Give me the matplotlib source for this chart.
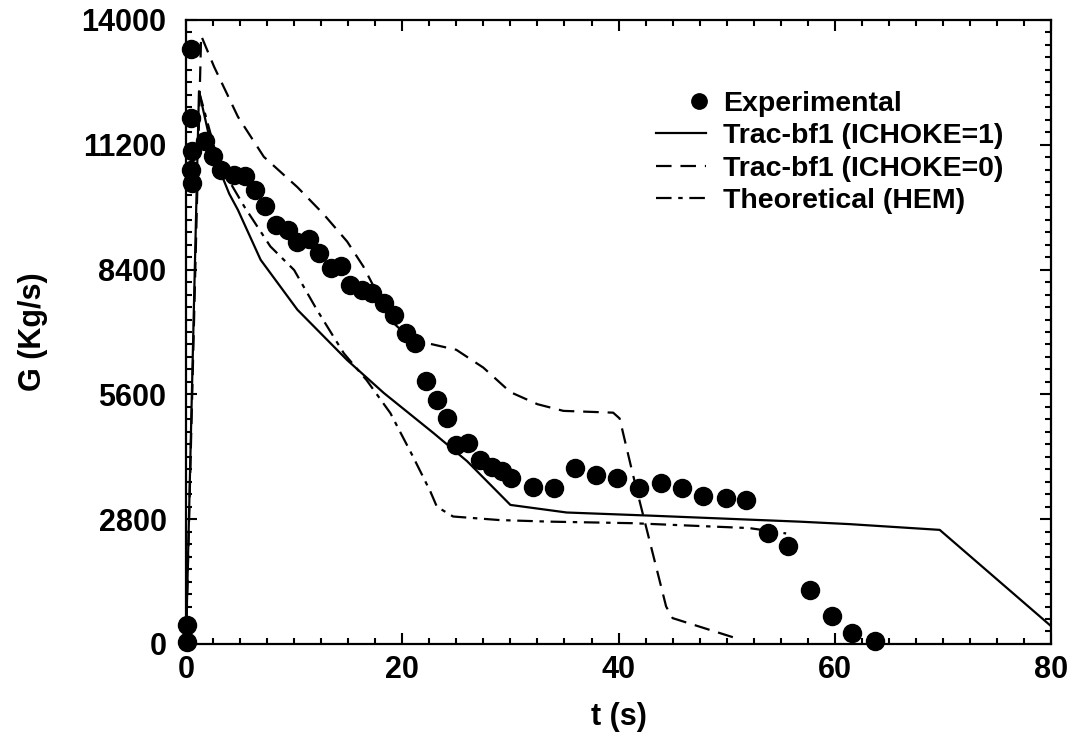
import matplotlib
matplotlib.use("Agg")
import matplotlib.pyplot as plt
from matplotlib.ticker import MultipleLocator
from matplotlib.legend_handler import HandlerLine2D

plt.rcParams['font.family'] = ['Liberation Sans', 'DejaVu Sans']
plt.rcParams['font.weight'] = 'bold'

# Experimental data
exp_t = [0.1, 0.1, 0.5, 0.5, 0.6, 0.5, 0.6, 1.8, 2.5, 3.2, 4.4, 5.5, 6.4, 7.3,
         8.3, 9.4, 10.3, 11.4, 12.3, 13.4, 14.3, 15.2, 16.3, 17.2, 18.3, 19.2,
         20.3, 21.2, 22.2, 23.2, 24.1, 25.0, 26.1, 27.2, 28.3, 29.2, 30.1, 32.1,
         34.0, 36.0, 37.9, 39.9, 41.9, 43.9, 45.9, 47.8, 49.9, 51.8, 53.8, 55.7,
         57.7, 59.7, 61.6, 63.7]
exp_G = [40, 420, 13340, 11800, 11050, 10640, 10350, 11280, 10940, 10640, 10530,
         10490, 10190, 9830, 9400, 9290, 9030, 9080, 8770, 8430, 8470, 8060, 7940,
         7870, 7650, 7380, 6970, 6750, 5890, 5480, 5060, 4470, 4500, 4130, 3980,
         3870, 3720, 3530, 3510, 3940, 3790, 3720, 3490, 3610, 3490, 3310, 3270,
         3230, 2480, 2190, 1200, 635, 250, 70]

# Trac-bf1 (ICHOKE=1)
c1_t = [0, 1.2, 2.5, 4.0, 4.8, 6.9, 10.3, 14.9, 18.3, 22.9, 26.0, 30.0, 35.2,
        42.9, 56.7, 61.3, 69.7, 80.0]
c1_G = [0, 12400, 11000, 10100, 9740, 8620, 7500, 6370, 5630, 4730, 4100, 3120,
        2950, 2880, 2745, 2690, 2560, 400]

# Trac-bf1 (ICHOKE=0)
c0_t = [0, 1.4, 2.6, 4.8, 7.2, 10.3, 12.7, 14.9, 16.4, 18.0, 19.2, 20.5, 22.3,
        25.0, 27.5, 30.0, 32.5, 34.9, 39.5, 40.1, 41.3, 44.4, 45.0, 50.6]
c0_G = [0, 13650, 12950, 11830, 10930, 10250, 9650, 9030, 8470, 7720, 7200, 6900,
        6750, 6600, 6200, 5650, 5380, 5230, 5190, 5060, 3830, 840, 580, 150]

# Theoretical (HEM)
hem_t = [1.2, 3.0, 5.4, 7.8, 10.0, 12.1, 14.6, 16.7, 18.9, 21.0, 22.6, 23.2, 24.7,
         29.0, 33.6, 41.3, 52.1, 55.5]
hem_G = [12400, 10800, 9810, 8920, 8390, 7500, 6520, 5920, 5180, 4200, 3420, 3080,
         2860, 2780, 2745, 2710, 2600, 2480]


class RightMarkerHandler(HandlerLine2D):
    def get_xdata(self, legend, xdescent, ydescent, width, height, fontsize):
        x = -xdescent + width - 0.25 * fontsize
        return [x], [x]


fig = plt.figure(figsize=(10.72, 7.38), dpi=100)
ax = fig.add_axes([0.1735, 0.1274, 0.807, 0.8455])

lw = 1.6
ax.plot(c1_t, c1_G, color='black', lw=lw, linestyle='-', label='Trac-bf1 (ICHOKE=1)')
ax.plot(c0_t, c0_G, color='black', lw=lw, linestyle=(0, (7, 4)), label='Trac-bf1 (ICHOKE=0)')
ax.plot(hem_t, hem_G, color='black', lw=lw, linestyle=(0, (7, 3, 2, 3)), label='Theoretical (HEM)')
exp_line, = ax.plot(exp_t, exp_G, 'o', color='black', markersize=13, label='Experimental',
                    clip_on=False, zorder=5)

ax.set_xlim(0, 80)
ax.set_ylim(0, 14000)
ax.xaxis.set_major_locator(MultipleLocator(20))
ax.xaxis.set_minor_locator(MultipleLocator(2.5))
ax.yaxis.set_major_locator(MultipleLocator(2800))
ax.yaxis.set_minor_locator(MultipleLocator(280))
ax.tick_params(which='both', direction='in', top=True, right=True, width=1.5)
ax.tick_params(which='major', length=8, labelsize=22)
ax.tick_params(which='minor', length=4.5)
ax.tick_params(axis='x', pad=8)
ax.tick_params(axis='y', pad=14)
for s in ax.spines.values():
    s.set_linewidth(1.6)

ax.set_xlabel('t (s)', fontsize=22, fontweight='bold', labelpad=12)
ax.set_ylabel('G (Kg/s)', fontsize=22, fontweight='bold', labelpad=24)

handles, labels = ax.get_legend_handles_labels()
order = [3, 0, 1, 2]
ax.legend([handles[i] for i in order], [labels[i] for i in order],
          loc='upper left', bbox_to_anchor=(0.53, 0.905), frameon=False,
          fontsize=20.5, handlelength=1.75, handletextpad=0.6, labelspacing=0.23,
          borderaxespad=0, numpoints=1, markerscale=0.85,
          handler_map={exp_line: RightMarkerHandler()})

fig.savefig('out.png', dpi=100)
